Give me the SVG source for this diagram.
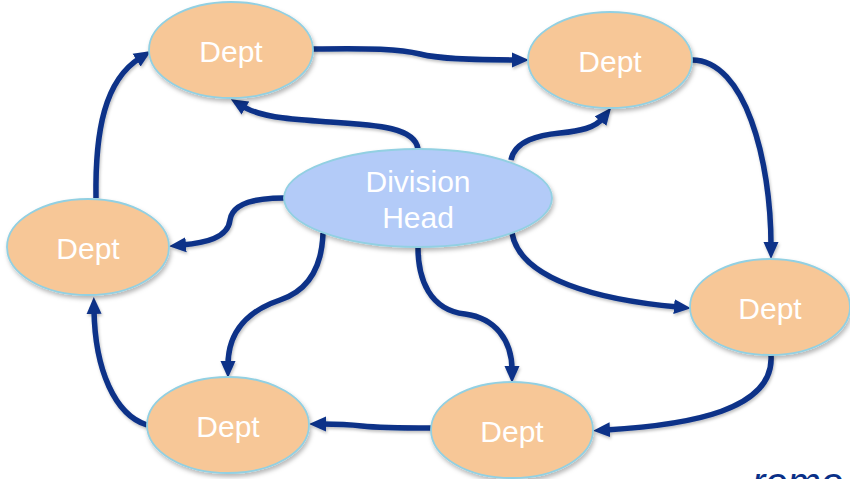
<svg xmlns="http://www.w3.org/2000/svg" width="850" height="479" viewBox="0 0 850 479">
  <style>
    .dept { fill: #f7c797; stroke: #92d0e2; stroke-width: 1.8; filter: url(#shadow); }
    .head { fill: #b3cbf8; stroke: #92d0e2; stroke-width: 1.8; filter: url(#shadow); }
    .lbl { fill: #ffffff; font-family: "Liberation Sans", Arial, sans-serif; font-size: 30px; text-anchor: middle; }
    .link { fill: none; stroke: #0a3088; stroke-width: 5.5; marker-end: url(#arrow); }
    .note { fill: #0a3088; font-family: "Liberation Sans", Arial, sans-serif; font-size: 40px; font-style: italic; }
  </style>
  <defs>
    <filter id="shadow" x="-20%" y="-20%" width="140%" height="150%">
      <feDropShadow dx="1.5" dy="3" stdDeviation="2" flood-color="#000" flood-opacity="0.28"/>
    </filter>
    <filter id="lineShadow" x="-10%" y="-10%" width="120%" height="130%">
      <feDropShadow dx="1" dy="2" stdDeviation="1.5" flood-color="#000" flood-opacity="0.25"/>
    </filter>
    <marker id="arrow" viewBox="0 0 17 17" markerUnits="userSpaceOnUse" markerWidth="17" markerHeight="17" refX="4" refY="8.5" orient="auto">
      <path d="M0,1 L17,8.5 L0,16 Z" fill="#0a3088"/>
    </marker>
  </defs>

  <!-- connectors -->
  <g id="connectors" filter="url(#lineShadow)">
    <path class="link" d="M313,49 C370,48 400,49 420,54 C440,59 470,60 516,60"/>
    <path class="link" d="M418,149 C415,128 380,125 330,122 C290,119 262,118 242,106"/>
    <path class="link" d="M511,160 C515,140 540,135 560,133 C580,131 595,128 603,118"/>
    <path class="link" d="M692,60 C745,60 771,160 771,246"/>
    <path class="link" d="M512,233 C520,280 600,300 678,307"/>
    <path class="link" d="M771,355 C775,410 690,425 606,430"/>
    <path class="link" d="M418,247 C418,280 430,310 465,314 C495,318 512,340 512,370"/>
    <path class="link" d="M323,233 C322,265 310,290 280,300 C250,310 228,330 228,365"/>
    <path class="link" d="M284,198 C250,198 232,205 230,220 C228,238 205,243 182,245"/>
    <path class="link" d="M431,428 C400,428 380,428 362,426 C345,424 335,424 322,424"/>
    <path class="link" d="M147,425 C115,415 95,370 94,310"/>
    <path class="link" d="M96,198 C95,130 105,80 140,58"/>
  </g>

  <!-- nodes -->
  <g id="dept-top-left">
    <ellipse class="dept" cx="231" cy="50" rx="82" ry="48"/>
    <text class="lbl" x="231" y="62">Dept</text>
  </g>
  <g id="dept-top-right">
    <ellipse class="dept" cx="610" cy="60" rx="82" ry="48"/>
    <text class="lbl" x="610" y="72">Dept</text>
  </g>
  <g id="division-head">
    <ellipse class="head" cx="418" cy="198" rx="134" ry="49"/>
    <text class="lbl" x="418" y="192">Division</text>
    <text class="lbl" x="418" y="228">Head</text>
  </g>
  <g id="dept-left">
    <ellipse class="dept" cx="88" cy="247" rx="81" ry="48"/>
    <text class="lbl" x="88" y="259">Dept</text>
  </g>
  <g id="dept-right">
    <ellipse class="dept" cx="770" cy="307" rx="80" ry="48"/>
    <text class="lbl" x="770" y="319">Dept</text>
  </g>
  <g id="dept-bottom-left">
    <ellipse class="dept" cx="228" cy="425" rx="81" ry="48"/>
    <text class="lbl" x="228" y="437">Dept</text>
  </g>
  <g id="dept-bottom-middle">
    <ellipse class="dept" cx="512" cy="430" rx="81" ry="48"/>
    <text class="lbl" x="512" y="442">Dept</text>
  </g>

  <!-- partial caption at the lower edge -->
  <text class="note" x="752" y="496">romo</text>
</svg>
